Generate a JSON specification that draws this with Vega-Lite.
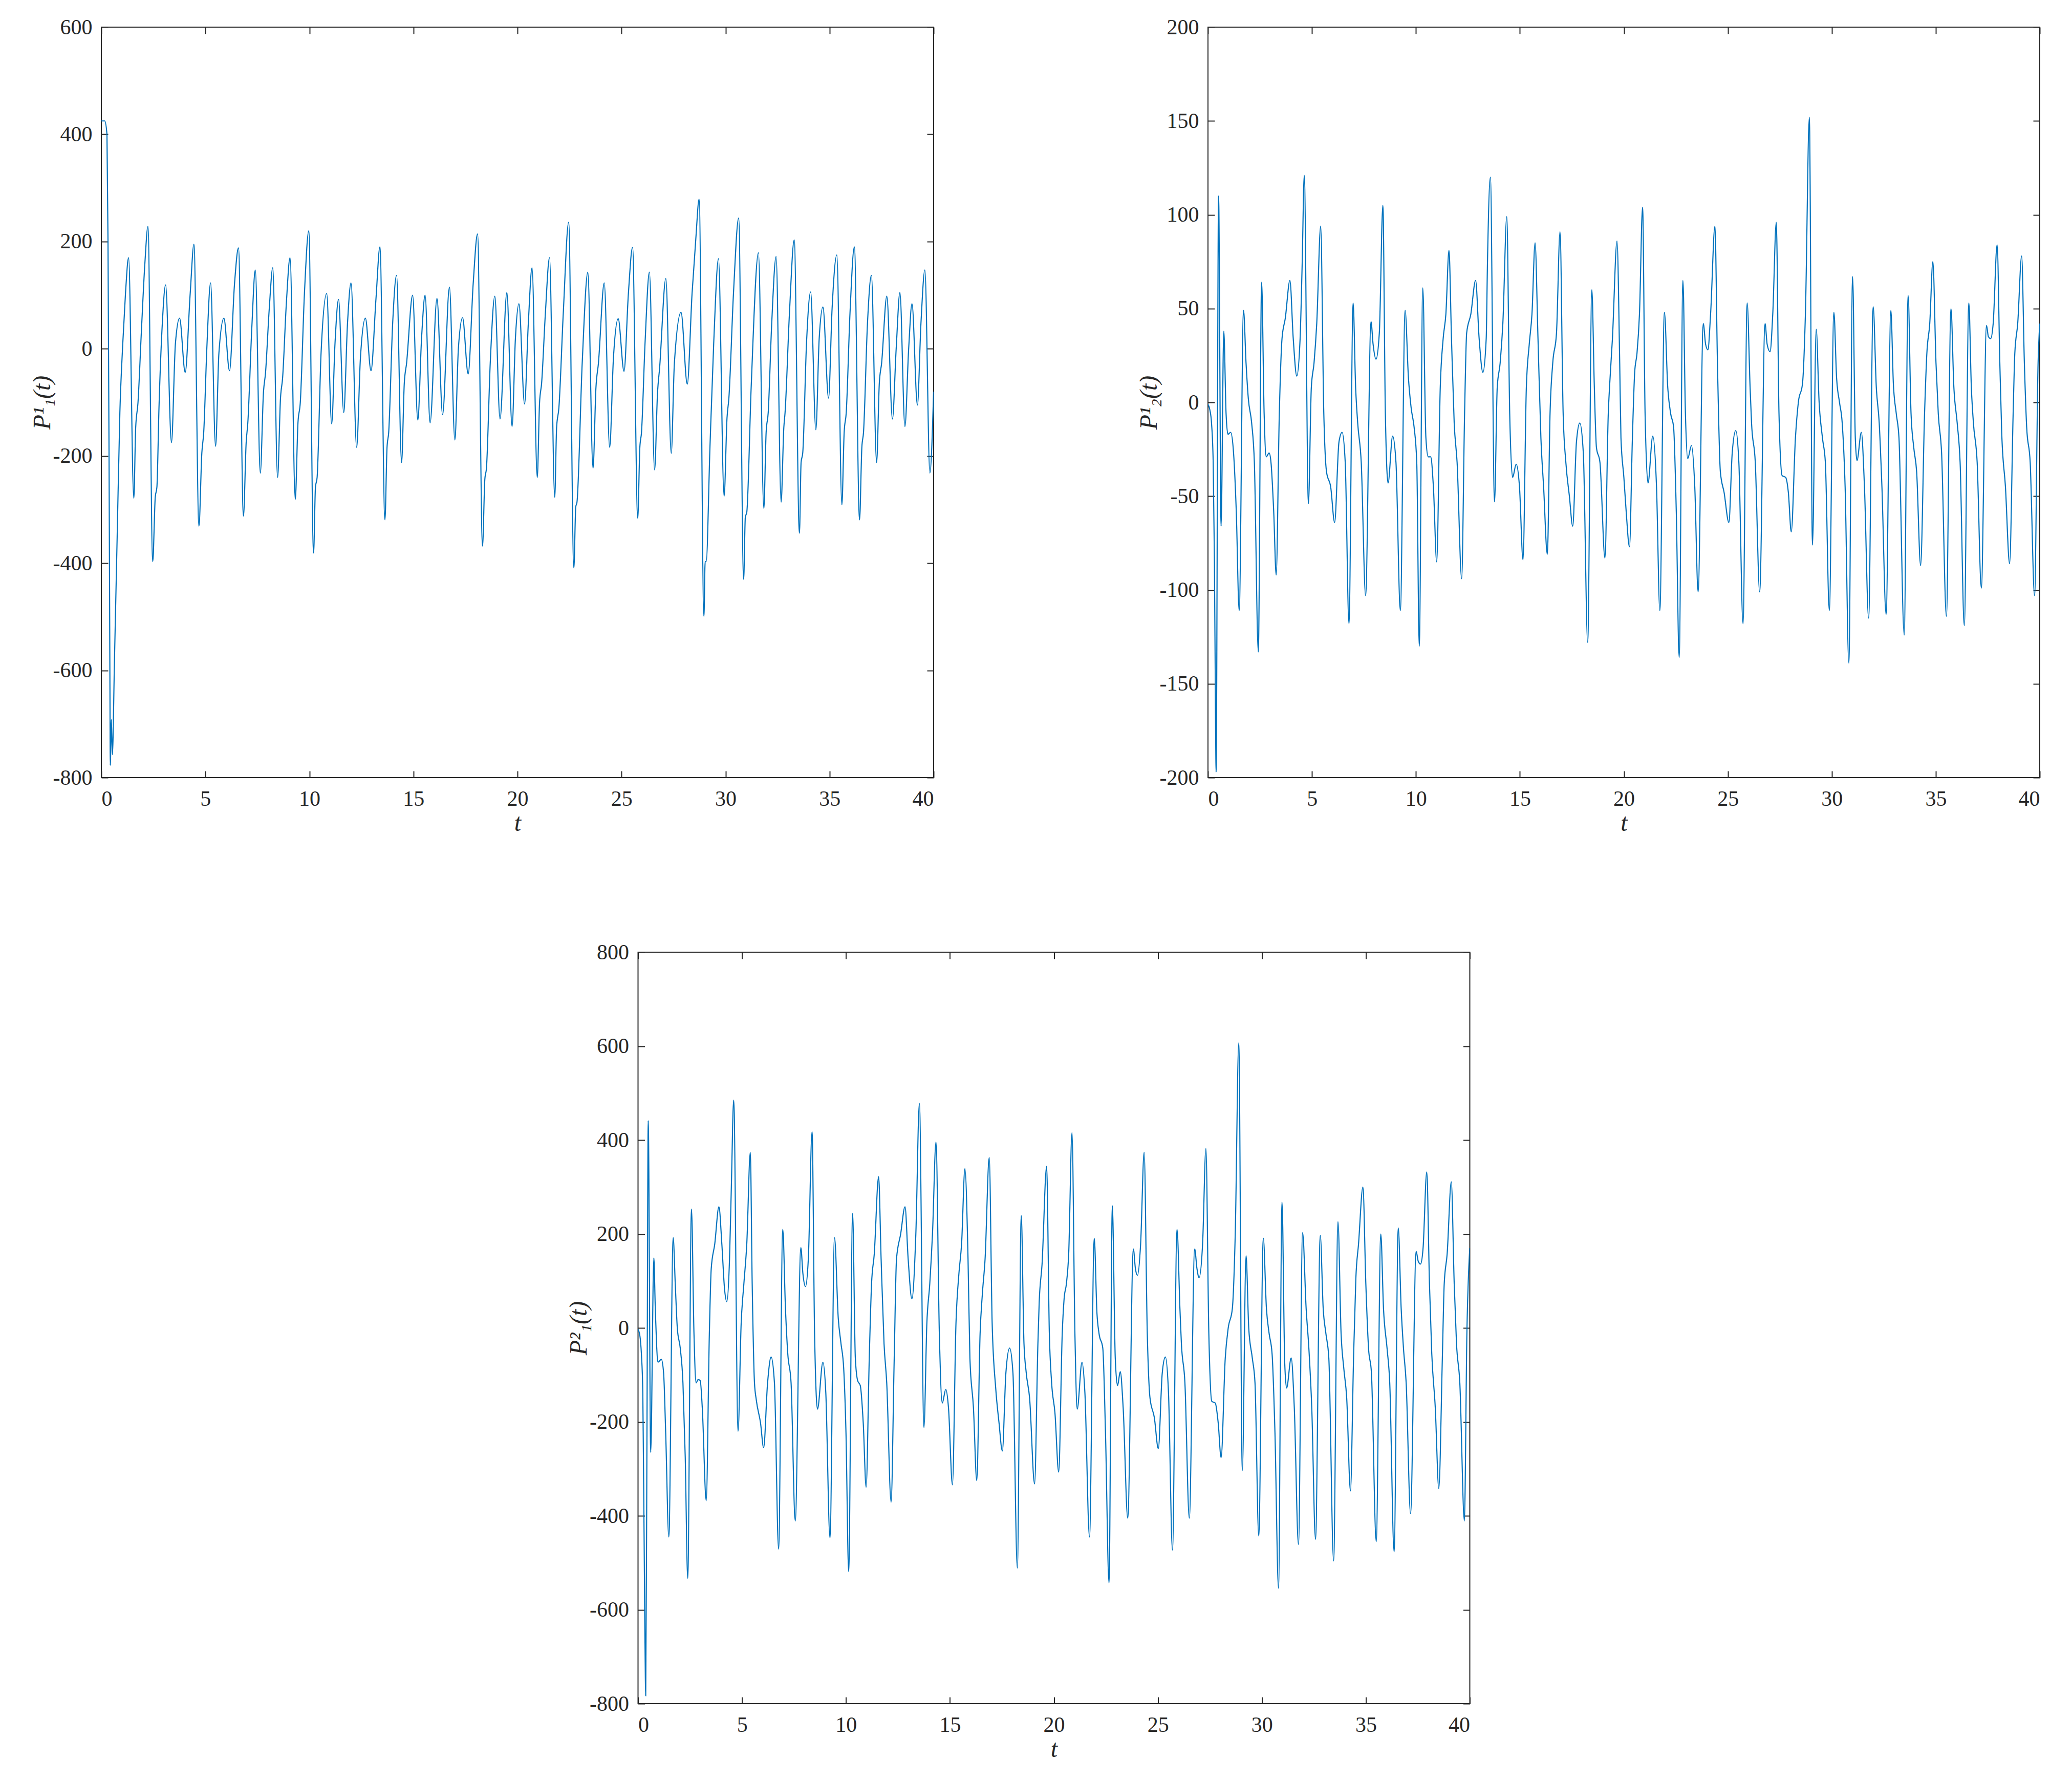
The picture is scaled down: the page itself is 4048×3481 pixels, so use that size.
{
  "$schema": "https://vega.github.io/schema/vega-lite/v6.json",
  "background": "white",
  "padding": {"left": 58, "top": 31, "right": 0, "bottom": 0},
  "config": {
    "view": {"stroke": "#262626", "strokeWidth": 2},
    "axis": {
      "grid": false, "domain": false,
      "tickSize": -13, "tickWidth": 2, "tickColor": "#262626",
      "labelFont": "Liberation Serif", "labelFontSize": 42, "labelColor": "#262626",
      "titleFont": "Liberation Serif", "titleFontStyle": "italic", "titleFontWeight": "normal",
      "titleFontSize": 48, "titleColor": "#262626",
      "labelExpr": "datum.value < 0 ? '-' + (-datum.value) : '' + datum.value"
    },
    "axisX": {"labelPadding": 34, "titlePadding": 3},
    "axisY": {"labelPadding": 31, "titlePadding": -4}
  },
  "datasets": {
    "p11": [
      {"t":0,"v":425},{"t":0.16,"v":425},{"t":0.27,"v":400},{"t":0.32,"v":200},{"t":0.37,"v":-200},{"t":0.41,"v":-600},{"t":0.43,"v":-777},{"t":0.48,"v":-692},{"t":0.53,"v":-757},{"t":0.63,"v":-582},{"t":0.76,"v":-351},{"t":0.89,"v":-119},{"t":1.03,"v":10},{"t":1.16,"v":103},{"t":1.31,"v":170},
      {"t":1.56,"v":-279},{"t":1.65,"v":-147},{"t":1.76,"v":-101},{"t":1.92,"v":29},{"t":2.09,"v":158},{"t":2.24,"v":228},{"t":2.47,"v":-397},{"t":2.59,"v":-277},{"t":2.67,"v":-258},{"t":2.77,"v":-110},{"t":2.93,"v":47},{"t":3.09,"v":119},{"t":3.37,"v":-175},{"t":3.56,"v":10},{"t":3.76,"v":57},{"t":4.03,"v":-44},{"t":4.27,"v":103},{"t":4.45,"v":195},{"t":4.69,"v":-331},{"t":4.83,"v":-194},{"t":4.92,"v":-156},{"t":5.07,"v":1},{"t":5.25,"v":123},{"t":5.49,"v":-182},{"t":5.65,"v":-8},{"t":5.89,"v":57},{"t":6.16,"v":-41},{"t":6.4,"v":121},{"t":6.59,"v":188},{"t":6.83,"v":-312},{"t":6.96,"v":-175},{"t":7.04,"v":-138},{"t":7.23,"v":38},{"t":7.4,"v":147},{"t":7.64,"v":-232},{"t":7.79,"v":-82},{"t":7.89,"v":-45},{"t":8.07,"v":75},{"t":8.24,"v":151},{"t":8.47,"v":-240},{"t":8.61,"v":-92},{"t":8.71,"v":-55},{"t":8.89,"v":84},{"t":9.07,"v":170},{"t":9.32,"v":-281},{"t":9.45,"v":-138},{"t":9.56,"v":-101},{"t":9.76,"v":103},{"t":9.97,"v":220},
      {"t":10.2,"v":-381},{"t":10.29,"v":-258},{"t":10.37,"v":-240},{"t":10.56,"v":-8},{"t":10.83,"v":103},{"t":11.07,"v":-140},{"t":11.23,"v":10},{"t":11.4,"v":92},{"t":11.65,"v":-119},{"t":11.83,"v":47},{"t":12.0,"v":123},{"t":12.27,"v":-184},{"t":12.45,"v":-18},{"t":12.69,"v":57},{"t":12.96,"v":-41},{"t":13.2,"v":94},{"t":13.39,"v":190},{"t":13.63,"v":-319},{"t":13.73,"v":-184},{"t":13.81,"v":-156},{"t":14.0,"v":47},{"t":14.19,"v":137},{"t":14.43,"v":-212},{"t":14.56,"v":-64},{"t":14.67,"v":-27},{"t":14.96,"v":100},{"t":15.21,"v":-133},{"t":15.39,"v":20},{"t":15.56,"v":100},{"t":15.8,"v":-138},{"t":16.13,"v":94},{"t":16.4,"v":-123},{"t":16.73,"v":115},{"t":16.99,"v":-170},{"t":17.16,"v":1},{"t":17.36,"v":58},{"t":17.63,"v":-47},{"t":17.87,"v":121},{"t":18.08,"v":214},{"t":18.32,"v":-368},{"t":18.43,"v":-244},{"t":18.51,"v":-222},{"t":18.69,"v":-27},{"t":18.91,"v":98},{"t":19.16,"v":-131},{"t":19.49,"v":105},{"t":19.74,"v":-145},{"t":19.9,"v":19},
      {"t":20.07,"v":84},{"t":20.34,"v":-103},{"t":20.52,"v":47},{"t":20.7,"v":151},{"t":20.95,"v":-240},{"t":21.06,"v":-101},{"t":21.16,"v":-64},{"t":21.34,"v":66},{"t":21.54,"v":170},{"t":21.79,"v":-277},{"t":21.88,"v":-147},{"t":21.99,"v":-110},{"t":22.2,"v":66},{"t":22.46,"v":236},{"t":22.71,"v":-409},{"t":22.8,"v":-295},{"t":22.86,"v":-286},{"t":23.11,"v":-27},{"t":23.38,"v":143},{"t":23.63,"v":-223},{"t":23.77,"v":-73},{"t":23.89,"v":-27},{"t":24.17,"v":123},{"t":24.43,"v":-184},{"t":24.61,"v":-18},{"t":24.84,"v":56},{"t":25.12,"v":-42},{"t":25.33,"v":103},{"t":25.53,"v":189},{"t":25.78,"v":-316},{"t":25.88,"v":-184},{"t":25.96,"v":-156},{"t":26.13,"v":10},{"t":26.34,"v":143},{"t":26.59,"v":-226},{"t":26.73,"v":-82},{"t":26.83,"v":-36},{"t":27.13,"v":131},{"t":27.39,"v":-195},{"t":27.54,"v":-27},{"t":27.86,"v":68},{"t":28.16,"v":-66},{"t":28.39,"v":103},{"t":28.57,"v":205},{"t":28.73,"v":279},{"t":28.96,"v":-499},{"t":29.02,"v":-397},{"t":29.07,"v":-397},{"t":29.25,"v":-184},{"t":29.43,"v":10},{"t":29.66,"v":168},{"t":29.93,"v":-275},
      {"t":30.07,"v":-129},{"t":30.16,"v":-92},{"t":30.38,"v":103},{"t":30.63,"v":244},{"t":30.87,"v":-430},{"t":30.95,"v":-314},{"t":31.02,"v":-305},{"t":31.23,"v":-73},{"t":31.58,"v":179},{"t":31.84,"v":-298},{"t":31.95,"v":-156},{"t":32.05,"v":-119},{"t":32.21,"v":40},{"t":32.43,"v":172},{"t":32.67,"v":-286},{"t":32.8,"v":-147},{"t":32.86,"v":-119},{"t":33.07,"v":66},{"t":33.3,"v":203},{"t":33.55,"v":-344},{"t":33.63,"v":-212},{"t":33.71,"v":-194},{"t":33.89,"v":10},{"t":34.09,"v":106},{"t":34.34,"v":-151},{"t":34.5,"v":19},{"t":34.68,"v":78},{"t":34.95,"v":-92},{"t":35.12,"v":75},{"t":35.35,"v":175},{"t":35.59,"v":-291},{"t":35.7,"v":-156},{"t":35.8,"v":-119},{"t":35.98,"v":66},{"t":36.19,"v":190},{"t":36.44,"v":-319},{"t":36.55,"v":-184},{"t":36.63,"v":-156},{"t":36.82,"v":47},{"t":37.01,"v":137},{"t":37.26,"v":-212},{"t":37.39,"v":-64},{"t":37.5,"v":-27},{"t":37.75,"v":98},{"t":38.02,"v":-131},{"t":38.2,"v":0},{"t":38.38,"v":105},{"t":38.62,"v":-145},{"t":38.8,"v":0},{"t":38.96,"v":84},{"t":39.22,"v":-105},{"t":39.39,"v":47},{"t":39.58,"v":147},{"t":39.82,"v":-232},{"t":40,"v":-80}
    ],
    "p21": [
      {"t":0,"v":-1},{"t":0.09,"v":-4},{"t":0.17,"v":-11},{"t":0.25,"v":-32},{"t":0.31,"v":-85},{"t":0.36,"v":-164},{"t":0.39,"v":-197},{"t":0.51,"v":110},{"t":0.63,"v":-66},{"t":0.76,"v":38},{"t":0.87,"v":-6},{"t":0.96,"v":-17},{"t":1.09,"v":-16},{"t":1.23,"v":-27},{"t":1.36,"v":-58},{"t":1.5,"v":-111},{"t":1.71,"v":49},{"t":1.83,"v":21},{"t":1.94,"v":2},{"t":2.1,"v":-11},{"t":2.23,"v":-32},{"t":2.42,"v":-133},{"t":2.58,"v":64},{"t":2.7,"v":-6},{"t":2.8,"v":-29},{"t":2.94,"v":-27},{"t":3.03,"v":-32},{"t":3.16,"v":-58},{"t":3.28,"v":-92},{"t":3.43,"v":-6},{"t":3.56,"v":34},{"t":3.72,"v":45},{"t":3.94,"v":65},{"t":4.1,"v":34},{"t":4.27,"v":14},{"t":4.43,"v":34},{"t":4.53,"v":74},{"t":4.63,"v":121},{"t":4.83,"v":-54},{"t":4.97,"v":8},{"t":5.1,"v":21},{"t":5.23,"v":42},{"t":5.42,"v":94},{"t":5.57,"v":-6},{"t":5.7,"v":-37},{"t":5.9,"v":-45},{"t":6.09,"v":-64},{"t":6.3,"v":-21},{"t":6.45,"v":-16},{"t":6.6,"v":-32},{"t":6.78,"v":-118},{"t":6.98,"v":53},{"t":7.1,"v":8},{"t":7.2,"v":-11},{"t":7.37,"v":-32},{"t":7.58,"v":-103},{"t":7.84,"v":43},{"t":7.94,"v":31},{"t":8.08,"v":23},{"t":8.24,"v":37},{"t":8.41,"v":105},{"t":8.53,"v":-6},{"t":8.66,"v":-43},{"t":8.88,"v":-18},{"t":9.04,"v":-32},{"t":9.25,"v":-111},{"t":9.48,"v":49},{"t":9.64,"v":13},{"t":9.77,"v":-3},{"t":9.91,"v":-13},
      {"t":10.04,"v":-32},{"t":10.16,"v":-130},{"t":10.33,"v":61},{"t":10.48,"v":-19},{"t":10.59,"v":-29},{"t":10.71,"v":-29},{"t":10.84,"v":-45},{"t":11.0,"v":-85},{"t":11.17,"v":8},{"t":11.31,"v":34},{"t":11.44,"v":47},{"t":11.59,"v":81},{"t":11.71,"v":34},{"t":11.84,"v":-11},{"t":11.98,"v":-32},{"t":12.2,"v":-94},{"t":12.34,"v":-6},{"t":12.44,"v":37},{"t":12.64,"v":47},{"t":12.87,"v":65},{"t":13.04,"v":34},{"t":13.22,"v":16},{"t":13.38,"v":34},{"t":13.44,"v":74},{"t":13.58,"v":120},{"t":13.78,"v":-53},{"t":13.91,"v":8},{"t":14.05,"v":21},{"t":14.18,"v":42},{"t":14.37,"v":99},{"t":14.51,"v":-6},{"t":14.65,"v":-40},{"t":14.82,"v":-33},{"t":14.98,"v":-45},{"t":15.15,"v":-84},{"t":15.31,"v":8},{"t":15.45,"v":31},{"t":15.58,"v":47},{"t":15.73,"v":85},{"t":15.87,"v":34},{"t":16.01,"v":-19},{"t":16.14,"v":-45},{"t":16.32,"v":-81},{"t":16.45,"v":-6},{"t":16.58,"v":21},{"t":16.76,"v":37},{"t":16.93,"v":91},{"t":17.08,"v":-6},{"t":17.21,"v":-32},{"t":17.38,"v":-50},{"t":17.54,"v":-66},{"t":17.72,"v":-21},{"t":17.88,"v":-11},{"t":18.05,"v":-27},{"t":18.26,"v":-128},{"t":18.46,"v":60},{"t":18.58,"v":8},{"t":18.68,"v":-24},{"t":18.85,"v":-32},{"t":19.09,"v":-83},{"t":19.25,"v":-6},{"t":19.32,"v":10},{"t":19.45,"v":34},{"t":19.67,"v":86},{"t":19.8,"v":21},{"t":19.86,"v":-19},
      {"t":20.0,"v":-40},{"t":20.11,"v":-58},{"t":20.27,"v":-77},{"t":20.41,"v":-19},{"t":20.52,"v":16},{"t":20.63,"v":26},{"t":20.75,"v":47},{"t":20.9,"v":104},{"t":21.02,"v":-6},{"t":21.16,"v":-43},{"t":21.39,"v":-18},{"t":21.57,"v":-45},{"t":21.73,"v":-111},{"t":21.95,"v":48},{"t":22.11,"v":8},{"t":22.25,"v":-6},{"t":22.39,"v":-13},{"t":22.52,"v":-58},{"t":22.66,"v":-136},{"t":22.84,"v":65},{"t":22.96,"v":-6},{"t":23.07,"v":-30},{"t":23.25,"v":-23},{"t":23.41,"v":-45},{"t":23.57,"v":-101},{"t":23.82,"v":42},{"t":23.93,"v":31},{"t":24.04,"v":28},{"t":24.17,"v":47},{"t":24.38,"v":94},{"t":24.5,"v":21},{"t":24.64,"v":-37},{"t":24.82,"v":-48},{"t":25.05,"v":-64},{"t":25.21,"v":-27},{"t":25.38,"v":-15},{"t":25.53,"v":-32},{"t":25.73,"v":-118},{"t":25.93,"v":53},{"t":26.07,"v":8},{"t":26.14,"v":-11},{"t":26.32,"v":-32},{"t":26.53,"v":-101},{"t":26.79,"v":42},{"t":26.89,"v":31},{"t":27.03,"v":27},{"t":27.16,"v":47},{"t":27.33,"v":96},{"t":27.46,"v":-6},{"t":27.61,"v":-39},{"t":27.78,"v":-40},{"t":27.91,"v":-48},{"t":28.05,"v":-69},{"t":28.25,"v":-19},{"t":28.39,"v":0},{"t":28.59,"v":10},{"t":28.73,"v":47},{"t":28.92,"v":152},{"t":29.07,"v":-76},{"t":29.25,"v":39},{"t":29.39,"v":0},{"t":29.55,"v":-19},{"t":29.69,"v":-32},{"t":29.88,"v":-111},
      {"t":30.1,"v":48},{"t":30.23,"v":13},{"t":30.37,"v":0},{"t":30.5,"v":-11},{"t":30.64,"v":-45},{"t":30.82,"v":-139},{"t":31.0,"v":67},{"t":31.13,"v":-19},{"t":31.21,"v":-31},{"t":31.42,"v":-16},{"t":31.57,"v":-45},{"t":31.77,"v":-115},{"t":31.99,"v":51},{"t":32.14,"v":8},{"t":32.28,"v":-11},{"t":32.41,"v":-45},{"t":32.61,"v":-113},{"t":32.84,"v":49},{"t":32.96,"v":10},{"t":33.1,"v":-6},{"t":33.23,"v":-19},{"t":33.48,"v":-124},{"t":33.67,"v":57},{"t":33.81,"v":-6},{"t":33.94,"v":-24},{"t":34.08,"v":-37},{"t":34.27,"v":-87},{"t":34.46,"v":-6},{"t":34.57,"v":26},{"t":34.71,"v":42},{"t":34.86,"v":75},{"t":35.01,"v":21},{"t":35.12,"v":-6},{"t":35.28,"v":-27},{"t":35.51,"v":-114},{"t":35.73,"v":50},{"t":35.87,"v":8},{"t":36.03,"v":-11},{"t":36.17,"v":-32},{"t":36.37,"v":-119},{"t":36.59,"v":53},{"t":36.71,"v":8},{"t":36.81,"v":-11},{"t":36.99,"v":-32},{"t":37.19,"v":-99},{"t":37.44,"v":41},{"t":37.53,"v":35},{"t":37.64,"v":34},{"t":37.76,"v":42},{"t":37.95,"v":84},{"t":38.08,"v":21},{"t":38.17,"v":-16},{"t":38.35,"v":-45},{"t":38.55,"v":-86},{"t":38.72,"v":-6},{"t":38.8,"v":26},{"t":38.94,"v":42},{"t":39.13,"v":78},{"t":39.26,"v":21},{"t":39.37,"v":-13},{"t":39.54,"v":-32},{"t":39.75,"v":-103},{"t":39.92,"v":21},{"t":40,"v":42}
    ],
    "p12": [
      {"t":0,"v":-3},{"t":0.09,"v":-17},{"t":0.16,"v":-54},{"t":0.23,"v":-138},{"t":0.29,"v":-434},{"t":0.33,"v":-645},{"t":0.37,"v":-783},{"t":0.43,"v":-223},{"t":0.49,"v":441},{"t":0.61,"v":-265},{"t":0.76,"v":149},{"t":0.83,"v":41},{"t":0.89,"v":-33},{"t":0.96,"v":-73},{"t":1.12,"v":-67},{"t":1.23,"v":-96},{"t":1.33,"v":-223},{"t":1.48,"v":-445},{"t":1.69,"v":192},{"t":1.79,"v":94},{"t":1.89,"v":-1},{"t":2.03,"v":-43},{"t":2.16,"v":-117},{"t":2.27,"v":-275},{"t":2.39,"v":-533},{"t":2.57,"v":253},{"t":2.69,"v":-12},{"t":2.79,"v":-117},{"t":2.89,"v":-110},{"t":2.99,"v":-112},{"t":3.09,"v":-170},{"t":3.28,"v":-368},{"t":3.43,"v":-12},{"t":3.52,"v":126},{"t":3.69,"v":179},{"t":3.89,"v":258},{"t":4.03,"v":179},{"t":4.16,"v":83},{"t":4.27,"v":56},{"t":4.4,"v":147},{"t":4.49,"v":305},{"t":4.6,"v":485},{"t":4.81,"v":-220},{"t":4.96,"v":10},{"t":5.09,"v":94},{"t":5.23,"v":179},{"t":5.4,"v":374},{"t":5.49,"v":94},{"t":5.6,"v":-117},{"t":5.69,"v":-154},{"t":5.89,"v":-202},{"t":6.04,"v":-255},{"t":6.23,"v":-117},{"t":6.4,"v":-62},{"t":6.56,"v":-117},{"t":6.76,"v":-471},{"t":6.96,"v":210},{"t":7.09,"v":41},{"t":7.2,"v":-54},{"t":7.36,"v":-117},{"t":7.56,"v":-411},{"t":7.83,"v":171},{"t":7.93,"v":115},{"t":8.05,"v":88},{"t":8.19,"v":147},{"t":8.37,"v":418},{"t":8.49,"v":-12},{"t":8.63,"v":-173},{"t":8.89,"v":-73},{"t":9.03,"v":-138},{"t":9.23,"v":-447},{"t":9.45,"v":192},{"t":9.63,"v":20},{"t":9.76,"v":-33},{"t":9.89,"v":-86},
      {"t":10.0,"v":-223},{"t":10.13,"v":-519},{"t":10.32,"v":244},{"t":10.45,"v":-64},{"t":10.56,"v":-112},{"t":10.69,"v":-123},{"t":10.83,"v":-202},{"t":10.97,"v":-339},{"t":11.12,"v":-64},{"t":11.23,"v":94},{"t":11.36,"v":157},{"t":11.57,"v":322},{"t":11.69,"v":147},{"t":11.83,"v":-33},{"t":11.96,"v":-117},{"t":12.17,"v":-371},{"t":12.32,"v":-64},{"t":12.43,"v":147},{"t":12.63,"v":200},{"t":12.84,"v":258},{"t":12.99,"v":147},{"t":13.17,"v":62},{"t":13.36,"v":200},{"t":13.53,"v":478},{"t":13.75,"v":-212},{"t":13.89,"v":10},{"t":14.03,"v":94},{"t":14.16,"v":200},{"t":14.33,"v":396},{"t":14.49,"v":-12},{"t":14.63,"v":-160},{"t":14.8,"v":-131},{"t":14.93,"v":-170},{"t":15.12,"v":-334},{"t":15.29,"v":10},{"t":15.43,"v":115},{"t":15.56,"v":179},{"t":15.72,"v":339},{"t":15.87,"v":147},{"t":15.96,"v":-64},{"t":16.13,"v":-170},{"t":16.29,"v":-325},{"t":16.45,"v":-12},{"t":16.56,"v":73},{"t":16.69,"v":147},{"t":16.89,"v":363},{"t":17.03,"v":10},{"t":17.2,"v":-128},{"t":17.36,"v":-202},{"t":17.52,"v":-262},{"t":17.69,"v":-96},{"t":17.87,"v":-43},{"t":18.03,"v":-96},{"t":18.24,"v":-511},{"t":18.43,"v":239},{"t":18.56,"v":-33},{"t":18.67,"v":-96},{"t":18.83,"v":-149},{"t":19.07,"v":-332},{"t":19.23,"v":-33},{"t":19.29,"v":52},{"t":19.43,"v":136},{"t":19.65,"v":344},{"t":19.78,"v":-12},{"t":19.89,"v":-117},
      {"t":20.05,"v":-181},{"t":20.23,"v":-307},{"t":20.4,"v":-12},{"t":20.49,"v":62},{"t":20.6,"v":94},{"t":20.71,"v":157},{"t":20.87,"v":416},{"t":21.01,"v":-12},{"t":21.12,"v":-173},{"t":21.35,"v":-73},{"t":21.49,"v":-138},{"t":21.71,"v":-445},{"t":21.94,"v":191},{"t":22.07,"v":31},{"t":22.17,"v":-12},{"t":22.35,"v":-43},{"t":22.48,"v":-223},{"t":22.65,"v":-543},{"t":22.81,"v":260},{"t":22.95,"v":-64},{"t":23.06,"v":-123},{"t":23.19,"v":-93},{"t":23.33,"v":-170},{"t":23.55,"v":-405},{"t":23.82,"v":168},{"t":23.92,"v":126},{"t":24.02,"v":112},{"t":24.17,"v":179},{"t":24.34,"v":374},{"t":24.49,"v":-12},{"t":24.62,"v":-149},{"t":24.83,"v":-191},{"t":25.02,"v":-257},{"t":25.21,"v":-96},{"t":25.36,"v":-62},{"t":25.51,"v":-138},{"t":25.7,"v":-473},{"t":25.92,"v":210},{"t":26.06,"v":41},{"t":26.13,"v":-33},{"t":26.3,"v":-117},{"t":26.51,"v":-405},{"t":26.77,"v":168},{"t":26.88,"v":126},{"t":26.98,"v":107},{"t":27.15,"v":179},{"t":27.31,"v":382},{"t":27.45,"v":-12},{"t":27.59,"v":-156},{"t":27.76,"v":-160},{"t":27.9,"v":-202},{"t":28.04,"v":-276},{"t":28.24,"v":-64},{"t":28.38,"v":-1},{"t":28.58,"v":41},{"t":28.72,"v":200},{"t":28.89,"v":607},{"t":29.06,"v":-304},{"t":29.24,"v":154},{"t":29.37,"v":-1},{"t":29.54,"v":-64},{"t":29.67,"v":-117},{"t":29.85,"v":-443},
      {"t":30.07,"v":191},{"t":30.22,"v":41},{"t":30.35,"v":-12},{"t":30.49,"v":-54},{"t":30.63,"v":-223},{"t":30.8,"v":-554},{"t":30.97,"v":268},{"t":31.1,"v":-75},{"t":31.19,"v":-128},{"t":31.41,"v":-64},{"t":31.56,"v":-170},{"t":31.76,"v":-461},{"t":31.96,"v":203},{"t":32.13,"v":41},{"t":32.26,"v":-43},{"t":32.4,"v":-170},{"t":32.58,"v":-450},{"t":32.81,"v":197},{"t":32.95,"v":41},{"t":33.08,"v":-12},{"t":33.22,"v":-64},{"t":33.45,"v":-496},{"t":33.66,"v":226},{"t":33.81,"v":-12},{"t":33.94,"v":-86},{"t":34.08,"v":-149},{"t":34.26,"v":-347},{"t":34.41,"v":-64},{"t":34.52,"v":105},{"t":34.65,"v":179},{"t":34.86,"v":300},{"t":35.0,"v":94},{"t":35.13,"v":-43},{"t":35.27,"v":-96},{"t":35.5,"v":-455},{"t":35.72,"v":200},{"t":35.85,"v":41},{"t":36.02,"v":-43},{"t":36.15,"v":-117},{"t":36.36,"v":-477},{"t":36.56,"v":213},{"t":36.7,"v":41},{"t":36.81,"v":-43},{"t":36.94,"v":-117},{"t":37.15,"v":-395},{"t":37.42,"v":163},{"t":37.52,"v":142},{"t":37.63,"v":136},{"t":37.75,"v":168},{"t":37.93,"v":332},{"t":38.06,"v":94},{"t":38.17,"v":-54},{"t":38.34,"v":-170},{"t":38.51,"v":-342},{"t":38.68,"v":-64},{"t":38.77,"v":94},{"t":38.91,"v":157},{"t":39.11,"v":311},{"t":39.25,"v":94},{"t":39.36,"v":-33},{"t":39.52,"v":-117},{"t":39.74,"v":-411},{"t":39.86,"v":-12},{"t":40,"v":170}
    ]
  },
  "vconcat": [
    {
      "hconcat": [
        {
          "width": 1626, "height": 1466,
          "data": {"name": "p11"},
          "layer": [
            {"mark": {"type": "line", "color": "#0072BD", "strokeWidth": 2.2, "interpolate": "monotone", "clip": true},
             "encoding": {
               "x": {"field": "t", "type": "quantitative", "scale": {"domain": [0, 40], "nice": false}, "axis": {"orient": "bottom", "values": [0,5,10,15,20,25,30,35,40], "title": "t"}},
               "y": {"field": "v", "type": "quantitative", "scale": {"domain": [-800, 600], "nice": false, "zero": false}, "axis": {"orient": "left", "values": [-800,-600,-400,-200,0,200,400,600], "title": "P¹₁(t)"}}
             }},
            {"mark": {"type": "line", "opacity": 0, "clip": true},
             "encoding": {
               "x": {"field": "t", "type": "quantitative", "axis": {"orient": "top", "values": [0,5,10,15,20,25,30,35,40], "labels": false, "title": null}},
               "y": {"field": "v", "type": "quantitative", "axis": {"orient": "right", "values": [-800,-600,-400,-200,0,200,400,600], "labels": false, "title": null}}
             }}
          ],
          "resolve": {"axis": {"x": "independent", "y": "independent"}}
        },
        {
          "width": 1625, "height": 1466,
          "data": {"name": "p21"},
          "layer": [
            {"mark": {"type": "line", "color": "#0072BD", "strokeWidth": 2.2, "interpolate": "monotone", "clip": true},
             "encoding": {
               "x": {"field": "t", "type": "quantitative", "scale": {"domain": [0, 40], "nice": false}, "axis": {"orient": "bottom", "values": [0,5,10,15,20,25,30,35,40], "title": "t"}},
               "y": {"field": "v", "type": "quantitative", "scale": {"domain": [-200, 200], "nice": false, "zero": false}, "axis": {"orient": "left", "values": [-200,-150,-100,-50,0,50,100,150,200], "title": "P¹₂(t)"}}
             }},
            {"mark": {"type": "line", "opacity": 0, "clip": true},
             "encoding": {
               "x": {"field": "t", "type": "quantitative", "axis": {"orient": "top", "values": [0,5,10,15,20,25,30,35,40], "labels": false, "title": null}},
               "y": {"field": "v", "type": "quantitative", "axis": {"orient": "right", "values": [-200,-150,-100,-50,0,50,100,150,200], "labels": false, "title": null}}
             }}
          ],
          "resolve": {"axis": {"x": "independent", "y": "independent"}}
        }
      ],
      "spacing": 536,
      "bounds": "flush"
    },
    {
      "width": 1625, "height": 1468,
      "data": {"name": "p12"},
      "layer": [
        {"mark": {"type": "line", "color": "#0072BD", "strokeWidth": 2.2, "interpolate": "monotone", "clip": true},
         "encoding": {
           "x": {"field": "t", "type": "quantitative", "scale": {"domain": [0, 40], "nice": false}, "axis": {"orient": "bottom", "values": [0,5,10,15,20,25,30,35,40], "title": "t"}},
           "y": {"field": "v", "type": "quantitative", "scale": {"domain": [-800, 800], "nice": false, "zero": false}, "axis": {"orient": "left", "values": [-800,-600,-400,-200,0,200,400,600,800], "title": "P²₁(t)"}}
         }},
        {"mark": {"type": "line", "opacity": 0, "clip": true},
         "encoding": {
           "x": {"field": "t", "type": "quantitative", "axis": {"orient": "top", "values": [0,5,10,15,20,25,30,35,40], "labels": false, "title": null}},
           "y": {"field": "v", "type": "quantitative", "axis": {"orient": "right", "values": [-800,-600,-400,-200,0,200,400,600,800], "labels": false, "title": " ", "titlePadding": 17}}
         }}
      ],
      "resolve": {"axis": {"x": "independent", "y": "independent"}}
    }
  ],
  "spacing": 205,
  "center": true
}
